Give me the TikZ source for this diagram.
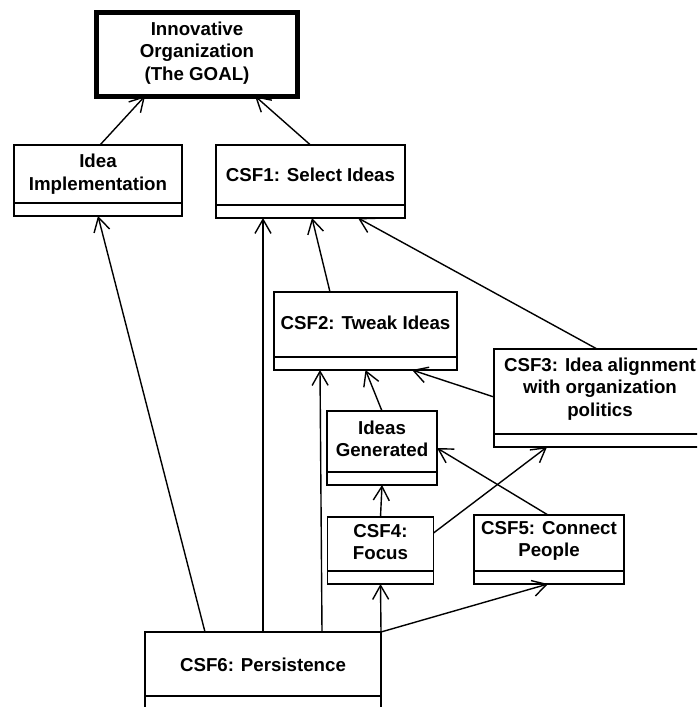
\documentclass[tikz,border=0pt]{standalone}
\usepackage{fontspec}
\setmainfont{Liberation Sans}
\usetikzlibrary{arrows.meta}
\begin{document}
\begin{tikzpicture}[x=1pt,y=-1pt,
  umlbox/.style={draw=black, line width=1.5pt, rectangle, inner sep=0pt, outer sep=0pt, fill=white},
  goalbox/.style={draw=black, line width=5pt, rectangle, inner sep=0pt, outer sep=0pt, fill=white},
  boxtext/.style={align=center, inner sep=0pt, font=\fontsize{18.7}{22.5}\selectfont\bfseries},
  dep/.style={draw=black, line width=1.4pt, -{Straight Barb[length=14pt,width=16pt,line width=1.4pt]}}
]
\useasboundingbox (0,0) rectangle (697,707);
\clip (0,0) rectangle (697,707);
\fill[white] (0,0) rectangle (697,707);

% boxes
\node[goalbox, minimum width=201, minimum height=84] (goal) at (196.5,54) {};
\node[umlbox, minimum width=168, minimum height=71] (ii) at (98,180.5) {};
\node[umlbox, minimum width=189, minimum height=73] (c1) at (310.5,181.5) {};
\node[umlbox, minimum width=183, minimum height=78] (c2) at (365.5,331) {};
\node[umlbox, minimum width=212, minimum height=98] (c3) at (600,398) {};
\node[umlbox, minimum width=110, minimum height=74] (ig) at (382,448) {};
\node[umlbox, minimum width=106, minimum height=67] (c4) at (380.5,550.5) {};
\node[umlbox, minimum width=150, minimum height=69] (c5) at (549,549.5) {};
\node[umlbox, minimum width=236, minimum height=77] (c6) at (263,670.5) {};

% lower compartments
\foreach \n in {ii,c1,c2,c3,ig,c4,c5,c6}
  \draw[line width=1.5pt] ([yshift=13pt]\n.south west) -- ([yshift=13pt]\n.south east);

% labels
\node[boxtext] (goalt) at (197,53) {Innovative\\Organization\\(The GOAL)};
\node[boxtext] (iit) at (98,174) {Idea\\Implementation};
\node[boxtext] (c1t) at (310.5,175) {CSF1: Select Ideas};
\node[boxtext] (c2t) at (365.5,323) {CSF2: Tweak Ideas};
\node[boxtext] (c3t) at (600,389) {CSF3: Idea alignment\\with organization\\politics};
\node[boxtext] (igt) at (382,439) {Ideas\\Generated};
\node[boxtext] (c4t) at (380.5,542) {CSF4:\\Focus};
\node[boxtext] (c5t) at (549,541) {CSF5: Connect\\People};
\node[boxtext] (c6t) at (263,665) {CSF6: Persistence};

% dependencies
\draw[dep] ([xshift=86pt]ii.north west) -- ([xshift=49pt]goal.south west);
\draw[dep] (c1.north) -- ([xshift=159pt]goal.south west);
\draw[dep] ([xshift=60pt]c6.north west) -- (ii.south);
\draw[dep] (c6.north) -- ([xshift=47pt]c1.south west);
\draw[dep] ([xshift=177pt]c6.north west) -- ([xshift=46pt]c2.south west);
\draw[dep] (c6.north east) -- (c4.south);
\draw[dep] (c6.north east) -- ([xshift=74pt]c5.south west);
\draw[dep] (c4.north) -- (ig.south);
\draw[dep] (ig.north) -- (c2.south);
\draw[dep] ([yshift=1pt]c3.west) -- ([xshift=138pt]c2.south west);
\draw[dep] ([yshift=17.5pt]c4.east) -- ([xshift=53pt]c3.south west);
\draw[dep] ([xshift=74pt]c5.north west) -- (ig.east);
\draw[dep] ([xshift=56pt]c2.north west) -- ([xshift=96pt]c1.south west);
\draw[dep] ([xshift=103pt]c3.north west) -- ([xshift=142pt]c1.south west);
\end{tikzpicture}
\end{document}
